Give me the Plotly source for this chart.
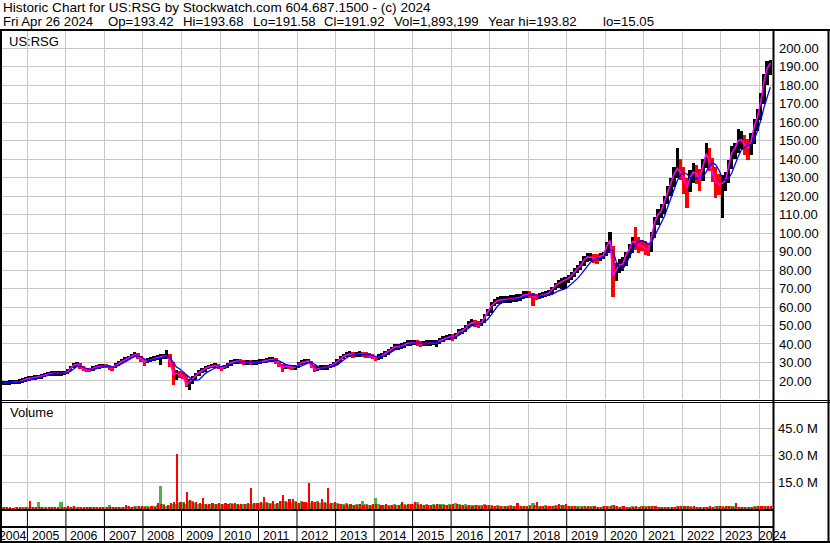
import plotly.graph_objects as go

W, H = 830, 543

# ---------------- data (monthly, May 2004 .. Apr 2024) ----------------
close = [
    19.0, 19.0, 19.2, 19.3, 19.5, 19.6, 20.2, 20.8,
    21.4, 21.6, 21.8, 22.0, 22.6, 23.2, 23.8, 24.0, 24.1, 24.1, 24.1, 24.2,
    25.0, 26.8, 28.5, 29.0, 27.6, 26.6, 26.0, 25.9, 26.7, 27.6, 27.9, 28.1,
    28.0, 27.3, 26.9, 28.3, 29.6, 30.5, 31.4, 32.4, 33.5, 34.3, 33.2, 31.6,
    30.5, 30.9, 31.5, 32.2, 32.7, 33.1, 33.3, 33.5, 30.5, 23.5, 24.1, 23.6,
    22.8, 17.8, 19.5, 21.2, 23.2, 24.6, 25.5, 26.8, 27.5, 28.1, 28.4, 27.7,
    26.8, 27.5, 28.6, 29.9, 30.4, 30.8, 30.4, 30.2, 30.2, 29.9, 29.9, 29.9,
    30.4, 30.8, 31.2, 31.5, 31.7, 30.4, 28.6, 27.4, 28.1, 27.6, 27.4, 27.4,
    29.0, 29.9, 30.4, 30.8, 28.1, 26.3, 26.6, 27.2, 27.4, 27.4, 28.1, 29.1,
    30.4, 32.1, 33.1, 34.2, 34.6, 34.0, 34.4, 34.6, 34.4, 34.0, 33.8, 33.1,
    32.3, 33.1, 33.5, 34.9, 35.8, 37.1, 38.5, 38.5, 38.9, 39.6, 40.4, 40.5,
    40.7, 40.4, 40.0, 40.2, 40.4, 40.4, 40.7, 40.7, 41.8, 42.5, 43.5, 43.9,
    43.5, 44.5, 46.5, 47.0, 48.5, 50.5, 51.5, 51.0, 50.5, 51.5, 54.5, 57.0,
    60.5, 62.3, 63.4, 63.8, 64.2, 64.2, 64.3, 64.5, 64.8, 65.1, 66.5, 66.8,
    66.5, 66.0, 65.6, 66.0, 66.5, 67.0, 67.4, 69.5, 71.5, 72.8, 73.6, 74.5,
    75.5, 77.0, 79.0, 81.0, 82.5, 85.5, 87.0, 87.0, 86.5, 86.0, 87.5, 88.0,
    93.0, 96.0, 77.0, 80.0, 83.0, 83.0, 88.0, 91.0, 95.5, 95.0, 93.5, 93.0,
    91.5, 91.0, 98.0, 106.0, 110.0, 112.0, 117.0, 122.0, 126.5, 132.0, 135.0, 133.0,
    129.0, 124.5, 130.0, 133.0, 132.0, 129.0, 136.0, 143.0, 139.0, 132.0, 128.0, 126.0,
    127.0, 128.5, 136.0, 143.5, 146.0, 150.0, 150.5, 147.5, 146.0, 149.5, 158.0, 163.0,
    171.0, 182.0, 189.0, 192.0,
]
high = [
    20.2, 20.1, 20.3, 20.4, 20.6, 20.8, 21.4, 22.0,
    22.6, 22.8, 23.0, 23.2, 23.8, 24.4, 25.0, 25.2, 25.3, 25.3, 25.3, 25.4,
    26.3, 28.0, 29.7, 30.3, 29.5, 28.0, 27.2, 27.1, 27.9, 28.8, 29.1, 29.3,
    29.2, 28.6, 28.2, 29.5, 30.9, 31.8, 32.7, 33.7, 34.8, 35.6, 35.0, 33.5,
    32.0, 32.2, 32.8, 33.5, 34.1, 34.5, 34.7, 36.7, 34.8, 30.5, 26.0, 25.3,
    24.6, 23.2, 20.8, 22.5, 24.5, 25.9, 26.8, 28.1, 28.8, 29.4, 29.7, 29.2,
    28.2, 28.8, 29.9, 31.5, 31.8, 32.1, 31.7, 31.5, 31.5, 31.2, 31.2, 31.2,
    31.7, 32.1, 32.5, 32.8, 33.0, 32.2, 30.5, 29.0, 29.4, 28.9, 28.7, 28.7,
    30.3, 31.2, 31.7, 32.1, 31.0, 28.4, 27.9, 28.5, 28.7, 28.7, 29.4, 30.4,
    31.8, 33.5, 34.5, 35.8, 36.0, 35.5, 35.8, 36.0, 35.8, 35.4, 35.2, 34.5,
    33.7, 34.5, 34.9, 36.3, 37.3, 38.6, 40.0, 40.0, 40.4, 41.1, 41.9, 42.0,
    42.2, 41.9, 41.5, 41.7, 41.9, 41.9, 42.2, 42.2, 43.4, 44.1, 45.1, 45.5,
    45.2, 46.2, 48.3, 48.8, 50.3, 52.4, 53.4, 52.9, 52.4, 53.4, 56.4, 58.9,
    62.5, 64.3, 65.4, 65.8, 66.2, 66.2, 66.3, 66.5, 66.8, 67.1, 68.5, 68.8,
    68.5, 67.8, 67.0, 67.5, 68.0, 68.7, 69.0, 71.0, 73.0, 74.5, 75.5, 76.0,
    77.5, 79.0, 81.0, 83.0, 85.0, 87.5, 89.5, 89.5, 88.5, 88.5, 89.5, 90.0,
    95.0, 100.8, 93.0, 84.0, 86.0, 87.0, 90.0, 94.0, 98.0, 103.5, 98.0, 96.5,
    95.5, 94.0, 100.5, 108.5, 113.0, 115.5, 120.0, 125.5, 130.0, 136.0, 145.9, 140.0,
    136.0, 130.0, 134.0, 138.0, 137.0, 134.5, 140.0, 148.6, 146.0, 140.5, 136.0, 132.0,
    131.5, 133.0, 139.5, 147.0, 149.0, 156.5, 155.0, 153.0, 151.0, 154.0, 162.0, 167.0,
    176.0, 186.0, 193.0, 193.8,
]
low = [
    17.9, 17.8, 18.0, 18.2, 18.4, 18.5, 18.9, 19.6,
    20.2, 20.4, 20.6, 20.8, 21.3, 22.0, 22.6, 22.8, 22.9, 22.9, 22.9, 23.0,
    23.8, 25.2, 27.0, 27.8, 26.4, 25.4, 24.8, 24.6, 25.4, 26.4, 26.7, 26.9,
    26.8, 26.0, 25.6, 26.8, 28.3, 29.2, 30.1, 31.1, 32.2, 33.0, 31.9, 30.3,
    28.0, 29.5, 30.1, 30.8, 31.3, 28.6, 31.8, 32.0, 27.8, 17.8, 20.5, 21.8,
    21.2, 16.5, 15.05, 18.6, 20.7, 22.9, 24.1, 25.0, 26.2, 26.8, 27.1, 26.4,
    25.4, 26.2, 27.2, 28.3, 29.0, 29.4, 29.1, 28.9, 28.9, 28.6, 28.6, 28.6,
    29.1, 29.5, 29.9, 30.2, 30.4, 29.1, 27.3, 24.6, 26.7, 26.3, 26.1, 26.1,
    27.1, 28.6, 29.1, 29.5, 26.8, 24.8, 25.3, 25.9, 26.1, 26.1, 26.8, 27.8,
    28.8, 30.3, 31.7, 32.8, 33.2, 32.6, 33.0, 33.2, 33.0, 32.6, 32.4, 31.7,
    30.9, 31.6, 32.1, 33.2, 34.3, 35.6, 37.0, 37.0, 37.4, 38.1, 38.9, 39.0,
    39.2, 38.9, 38.3, 38.7, 38.9, 38.9, 39.2, 38.4, 40.2, 40.9, 41.9, 42.3,
    41.8, 42.7, 44.6, 45.2, 46.6, 48.6, 49.6, 49.1, 48.6, 49.6, 51.5, 55.0,
    56.8, 60.3, 61.4, 61.8, 62.2, 62.2, 62.3, 62.5, 62.8, 63.1, 64.5, 64.8,
    64.8, 60.5, 63.8, 64.3, 64.8, 65.5, 65.8, 66.8, 69.3, 70.5, 70.0, 70.0,
    73.0, 74.8, 76.5, 78.5, 80.0, 82.0, 84.5, 84.8, 84.0, 83.5, 85.0, 86.0,
    87.5, 89.0, 65.6, 74.0, 78.5, 79.5, 82.0, 86.5, 89.5, 91.0, 89.0, 90.5,
    88.1, 87.5, 90.0, 97.5, 104.5, 108.0, 110.5, 115.5, 120.0, 125.0, 130.0, 128.5,
    121.0, 113.4, 122.0, 127.0, 126.5, 123.0, 128.0, 135.0, 133.5, 127.5, 119.0, 120.5,
    108.0, 123.0, 127.0, 134.5, 140.0, 143.5, 145.5, 142.0, 139.6, 142.0, 148.0, 155.0,
    161.0, 170.0, 180.0, 185.5,
]
ma_slow = [
    19.2, 19.1, 19.1, 19.2, 19.3, 19.4, 19.7, 20.1,
    20.6, 21.1, 21.5, 21.8, 22.1, 22.6, 23.1, 23.6, 23.9, 24.0, 24.1, 24.1,
    24.4, 25.3, 26.6, 27.8, 28.0, 27.4, 26.7, 26.2, 26.2, 26.7, 27.3, 27.8,
    28.0, 27.8, 27.4, 27.5, 28.2, 29.3, 30.3, 31.3, 32.3, 33.3, 33.6, 33.0,
    31.9, 31.2, 31.2, 31.6, 32.1, 32.6, 33.0, 33.3, 32.6, 29.8, 27.5, 26.5,
    25.0, 23.5, 21.8, 20.5, 20.4, 20.6, 22.3, 24.1, 25.2, 26.2, 27.0, 27.5,
    27.8, 28.1, 28.5, 29.0, 29.6, 30.1, 30.4, 30.4, 30.3, 30.2, 30.0, 29.9,
    29.9, 30.1, 30.4, 30.8, 31.1, 31.2, 30.8, 29.8, 29.0, 28.6, 28.2, 27.9,
    27.7, 28.2, 29.0, 29.8, 30.0, 29.0, 27.8, 27.0, 26.9, 27.2, 27.4, 27.9,
    28.7, 29.8, 31.2, 32.5, 33.6, 34.1, 34.2, 34.3, 34.4, 34.3, 34.1, 33.7,
    33.2, 32.9, 33.1, 33.7, 34.6, 35.7, 36.9, 37.8, 38.4, 38.9, 39.5, 40.1,
    40.4, 40.5, 40.3, 40.2, 40.2, 40.3, 40.4, 40.6, 41.0, 41.6, 42.4, 43.1,
    43.4, 43.8, 44.8, 45.9, 47.1, 48.5, 49.9, 50.7, 50.9, 50.9, 51.9, 53.5,
    55.8, 58.3, 60.4, 62.0, 63.0, 63.7, 64.0, 64.2, 64.4, 64.7, 65.3, 66.0,
    66.5, 66.5, 66.2, 65.9, 66.0, 66.2, 66.3, 66.8, 67.8, 68.8, 69.3, 69.8,
    71.0, 72.5, 74.0, 75.5, 77.5, 79.5, 82.0, 84.2, 85.5, 86.0, 86.3, 86.8,
    88.5, 91.0, 90.5, 84.5, 81.5, 80.5, 83.0, 87.0, 90.5, 94.0, 95.5, 96.0,
    95.0, 94.0, 95.0, 98.5, 102.0, 106.0, 109.0, 114.0, 119.0, 124.0, 128.5, 131.5,
    132.5, 132.0, 130.0, 129.0, 129.5, 130.0, 130.5, 133.0, 136.5, 138.0, 137.0, 134.0,
    130.0, 128.5, 129.5, 132.5, 137.0, 141.5, 145.0, 146.5, 147.5, 148.0, 150.5, 155.5,
    161.0, 168.0, 174.0, 179.0,
]
# volume on up days (green) and down days (red), millions
vol_up_m = [
    1.6, 1.2, 1.0, 1.1, 1.3, 1.0, 1.4, 1.2,
    1.3, 1.6, 1.2, 4.1, 1.2, 1.4, 1.0, 1.3, 1.2, 1.0, 4.1, 1.3,
    1.6, 1.2, 1.4, 1.3, 1.2, 1.0, 1.6, 1.2, 1.4, 1.3, 1.1, 1.2,
    1.2, 2.6, 1.4, 1.5, 1.3, 1.6, 1.4, 1.8, 1.5, 2.0, 2.2, 1.6,
    1.8, 2.0, 1.6, 1.7, 2.5, 13.1, 2.8, 2.2, 2.5, 3.0, 3.0, 3.8,
    4.0, 3.2, 4.5, 4.5, 3.6, 3.0, 3.2, 3.0, 2.6, 3.2, 2.8, 3.0,
    2.8, 3.0, 2.5, 3.5, 3.0, 2.8, 2.6, 3.1, 3.0, 2.9, 3.2, 3.4,
    3.6, 3.4, 4.1, 3.6, 3.8, 3.2, 3.6, 4.5, 4.5, 4.2, 3.8, 4.6,
    3.4, 4.5, 3.6, 3.8, 3.8, 4.4, 4.6, 3.5, 4.2, 3.6, 3.2, 3.8,
    3.6, 3.2, 2.8, 3.4, 2.6, 2.4, 2.9, 2.8, 5.0, 2.8, 2.4, 2.6,
    6.4, 3.0, 2.7, 2.5, 2.5, 2.6, 2.9, 2.4, 2.8, 3.0, 2.5, 2.8,
    3.0, 4.0, 2.6, 2.4, 2.8, 2.5, 2.9, 2.6, 3.0, 2.9, 2.4, 3.0,
    3.1, 3.5, 2.8, 2.6, 2.9, 2.7, 2.4, 2.5, 2.6, 2.3, 2.8, 2.6,
    2.4, 2.2, 2.5, 2.0, 2.1, 1.9, 2.3, 2.0, 2.2, 2.1, 2.0, 2.2,
    2.3, 3.5, 2.4, 2.2, 2.1, 2.4, 2.0, 2.2, 2.4, 2.6, 2.5, 2.4,
    2.0, 1.9, 2.1, 1.8, 1.7, 2.0, 1.6, 1.8, 1.7, 1.6, 1.5, 1.9,
    1.8, 2.2, 2.4, 1.9, 1.6, 1.7, 1.5, 1.6, 1.8, 1.6, 1.5, 1.8,
    1.7, 1.8, 2.0, 1.9, 1.6, 1.5, 1.6, 1.4, 1.6, 1.5, 1.7, 1.9,
    1.8, 1.9, 1.7, 1.6, 1.5, 1.6, 1.4, 1.5, 1.6, 1.5, 1.8, 1.9,
    1.7, 1.6, 1.8, 1.7, 1.8, 1.6, 1.4, 1.5, 1.6, 1.5, 1.7, 1.9,
    1.8, 1.9, 1.7, 1.6,
]
vol_down_m = [
    1.4, 1.5, 1.2, 1.0, 1.2, 1.3, 1.1, 1.5,
    4.5, 1.4, 1.6, 1.5, 1.4, 1.2, 1.6, 1.4, 1.5, 1.3, 1.5, 1.2,
    1.8, 1.5, 1.7, 1.5, 1.6, 1.4, 1.3, 1.4, 1.2, 1.6, 1.5, 1.3,
    1.5, 1.4, 1.6, 1.3, 1.5, 1.3, 2.6, 1.7, 1.4, 1.6, 2.0, 1.8,
    1.6, 1.5, 1.8, 1.4, 3.6, 3.0, 2.6, 2.5, 3.6, 4.0, 30.8, 4.2,
    3.5, 9.8, 5.5, 4.0, 4.2, 3.5, 6.4, 3.2, 3.0, 3.6, 3.0, 3.4,
    3.2, 3.6, 2.8, 3.2, 3.4, 3.0, 2.8, 2.9, 3.4, 12.0, 3.5, 3.8,
    4.0, 7.0, 3.8, 3.2, 4.5, 3.8, 4.8, 8.3, 4.2, 6.0, 6.0, 4.2,
    3.8, 4.0, 4.2, 14.8, 5.0, 4.0, 4.0, 6.0, 3.8, 12.0, 3.8, 4.2,
    3.0, 2.8, 2.6, 3.0, 3.0, 2.6, 2.5, 3.2, 2.6, 2.4, 2.6, 3.2,
    3.0, 2.6, 2.4, 2.8, 2.2, 2.4, 2.5, 2.7, 4.4, 2.6, 2.8, 3.1,
    4.0, 3.0, 3.0, 2.6, 2.4, 2.3, 2.5, 3.2, 2.6, 2.4, 2.6, 2.5,
    2.8, 3.0, 2.4, 2.5, 2.2, 2.5, 2.0, 2.3, 2.2, 2.1, 2.4, 2.3,
    2.0, 1.9, 2.2, 1.8, 1.9, 1.8, 1.7, 1.9, 3.5, 1.8, 1.9, 2.0,
    2.0, 2.4, 4.0, 2.0, 1.9, 2.1, 1.8, 1.9, 2.1, 3.0, 2.4, 3.0,
    1.8, 1.7, 1.8, 1.6, 1.6, 1.8, 1.7, 1.6, 1.8, 1.5, 1.6, 1.7,
    1.7, 2.0, 2.6, 1.7, 1.5, 1.8, 1.6, 1.5, 1.6, 1.7, 1.6, 1.7,
    1.6, 1.7, 1.8, 1.7, 1.5, 1.6, 1.5, 1.5, 1.4, 1.6, 1.8, 1.7,
    1.7, 2.0, 1.6, 1.7, 1.6, 1.5, 1.5, 1.6, 1.7, 1.6, 1.7, 1.8,
    1.6, 1.7, 1.7, 1.6, 3.5, 1.5, 1.5, 1.6, 1.5, 1.6, 1.6, 1.8,
    1.7, 1.8, 1.8, 1.7,
]
price_ticks = [20, 30, 40, 50, 60, 70, 80, 90, 100, 110, 120, 130, 140,
               150, 160, 170, 180, 190, 200]
volume_ticks = [15e6, 30e6, 45e6]
volume_tick_text = ["15.0 M", "30.0 M", "45.0 M"]
years = list(range(2005, 2025))

header1 = "Historic Chart for US:RSG by Stockwatch.com 604.687.1500 - (c) 2024"
header2 = [("Fri Apr 26 2024", 1.7), ("Op=193.42", 107.3), ("Hi=193.68", 182.3),
           ("Lo=191.58", 252.3), ("Cl=191.92", 323.3), ("Vol=1,893,199", 393.3),
           ("Year hi=193.82", 487.0), ("lo=15.05", 601.5)]

# ---------------- helpers ----------------
months = []
yy, mm = 2004, 5
for _ in range(len(close)):
    months.append(f"{yy}-{mm:02d}-15")
    mm += 1
    if mm > 12:
        mm, yy = 1, yy + 1

bar_colors = []
prev = close[0]
for c in close:
    bar_colors.append("#000000" if c >= prev else "#ff0000")
    prev = c
spans = [h - l for h, l in zip(high, low)]
vol_up = [v * 1e6 for v in vol_up_m]
vol_down = [v * 1e6 for v in vol_down_m]
DAY_MS = 24 * 3600 * 1000
MONTH_MS = 31 * DAY_MS

def py(ypx):  # pixel row -> paper fraction
    return (H - ypx) / H

def px(xpx):
    return xpx / W

FONT = "Liberation Sans, Arial, sans-serif"
GRID = "#c8c8c8"
XR = ["2004-05-05", "2024-05-10"]

fig = go.Figure()
fig.add_trace(go.Bar(x=months, y=spans, base=low, marker_color=bar_colors,
                     marker_line_width=0, width=MONTH_MS, xaxis="x", yaxis="y"))
fig.add_trace(go.Scatter(x=months, y=close, mode="lines",
                         line=dict(color="#ff00ff", width=1.6), xaxis="x", yaxis="y"))
fig.add_trace(go.Scatter(x=months, y=ma_slow, mode="lines",
                         line=dict(color="#0000ff", width=1.3), xaxis="x", yaxis="y"))
# green: full month column; red: right part of the month drawn on top
fig.add_trace(go.Bar(x=months, y=vol_up, marker_color="#4cb34c",
                     marker_line_width=0, width=MONTH_MS,
                     xaxis="x2", yaxis="y2"))
fig.add_trace(go.Bar(x=months, y=vol_down, marker_color="#ff0000",
                     marker_line_width=0, width=20 * DAY_MS, offset=-3 * DAY_MS,
                     xaxis="x2", yaxis="y2"))

xcommon = dict(type="date", range=XR, domain=[px(2), px(773)], showgrid=True,
               gridcolor=GRID, gridwidth=1, tickvals=[f"{y}-01-01" for y in years],
               showticklabels=False, ticks="", zeroline=False, showline=False)
fig.update_layout(
    width=W, height=H, margin=dict(l=0, r=0, t=0, b=0),
    paper_bgcolor="white", plot_bgcolor="white", showlegend=False,
    bargap=0, barmode="overlay", font=dict(family=FONT, size=13, color="#000000"),
    xaxis=dict(anchor="y", **xcommon),
    xaxis2=dict(anchor="y2", matches="x", **xcommon),
    yaxis=dict(domain=[py(399), py(31)], range=[10.23, 209.36], side="right",
               anchor="x", tickvals=price_ticks,
               ticktext=[f"{v:.2f}" for v in price_ticks], showgrid=True,
               gridcolor=GRID, gridwidth=1, zeroline=False, ticks="",
               tickfont=dict(family=FONT, size=13, color="#000000"),
               ticklabelstandoff=5),
    yaxis2=dict(domain=[py(509), py(403.5)], range=[0, 58.8e6], side="right",
                anchor="x2", tickvals=volume_ticks, ticktext=volume_tick_text,
                showgrid=True, gridcolor=GRID, gridwidth=1, zeroline=False,
                ticks="", tickfont=dict(family=FONT, size=13, color="#000000"),
                ticklabelstandoff=4),
)

shapes = []
def hline(ypx, x0, x1, w):
    shapes.append(dict(type="line", xref="paper", yref="paper", x0=px(x0), x1=px(x1),
                       y0=py(ypx), y1=py(ypx), line=dict(color="black", width=w)))
def vline(xpx, y0, y1, w):
    shapes.append(dict(type="line", xref="paper", yref="paper", x0=px(xpx), x1=px(xpx),
                       y0=py(y0), y1=py(y1), line=dict(color="black", width=w)))

hline(30, 0, 830, 2)
hline(400.5, 0, 830, 1)
hline(402.5, 0, 830, 1)
hline(510, 0, 773, 2)
hline(527, 0, 773, 2)
hline(542, 0, 830, 2)
vline(1, 30, 543, 2)
vline(773.5, 30, 543, 2)
vline(828.5, 30, 543, 2)
for y in years:
    shapes.append(dict(type="line", xref="x", yref="paper", x0=f"{y}-01-01",
                       x1=f"{y}-01-01", y0=py(543), y1=py(510),
                       line=dict(color="black", width=1)))
fig.update_layout(shapes=shapes)

ann = []
ann.append(dict(text=header1, xref="paper", yref="paper", x=px(1.5), y=py(7.3),
                xanchor="left", yanchor="middle", showarrow=False, borderpad=0,
                font=dict(family=FONT, size=13.6, color="black")))
for t, xp in header2:
    ann.append(dict(text=t, xref="paper", yref="paper", x=px(xp), y=py(21.3),
                    xanchor="left", yanchor="middle", showarrow=False, borderpad=0,
                    font=dict(family=FONT, size=13.2, color="black")))
ann.append(dict(text="US:RSG", xref="paper", yref="paper", x=px(8), y=py(41),
                xanchor="left", yanchor="middle", showarrow=False, borderpad=0,
                font=dict(family=FONT, size=13, color="black")))
ann.append(dict(text="Volume", xref="paper", yref="paper", x=px(9), y=py(413),
                xanchor="left", yanchor="middle", showarrow=False, borderpad=0,
                font=dict(family=FONT, size=13, color="black")))
ann.append(dict(text="2004", xref="paper", yref="paper", x=px(-2.5), y=py(535.5),
                xanchor="left", yanchor="middle", showarrow=False, borderpad=0,
                font=dict(family=FONT, size=12.3, color="black")))
for y in years:
    ann.append(dict(text=str(y), xref="x", yref="paper", x=f"{y}-01-01", y=py(535.5),
                    xshift=(3.4 if y < 2024 else -1.3), xanchor="left", yanchor="middle",
                    showarrow=False, borderpad=0,
                    font=dict(family=FONT, size=12.3, color="black")))
fig.update_layout(annotations=ann)

fig.write_html("out.html", config={"displayModeBar": False},
               post_script="document.body.style.margin='0';document.body.style.padding='0';")
